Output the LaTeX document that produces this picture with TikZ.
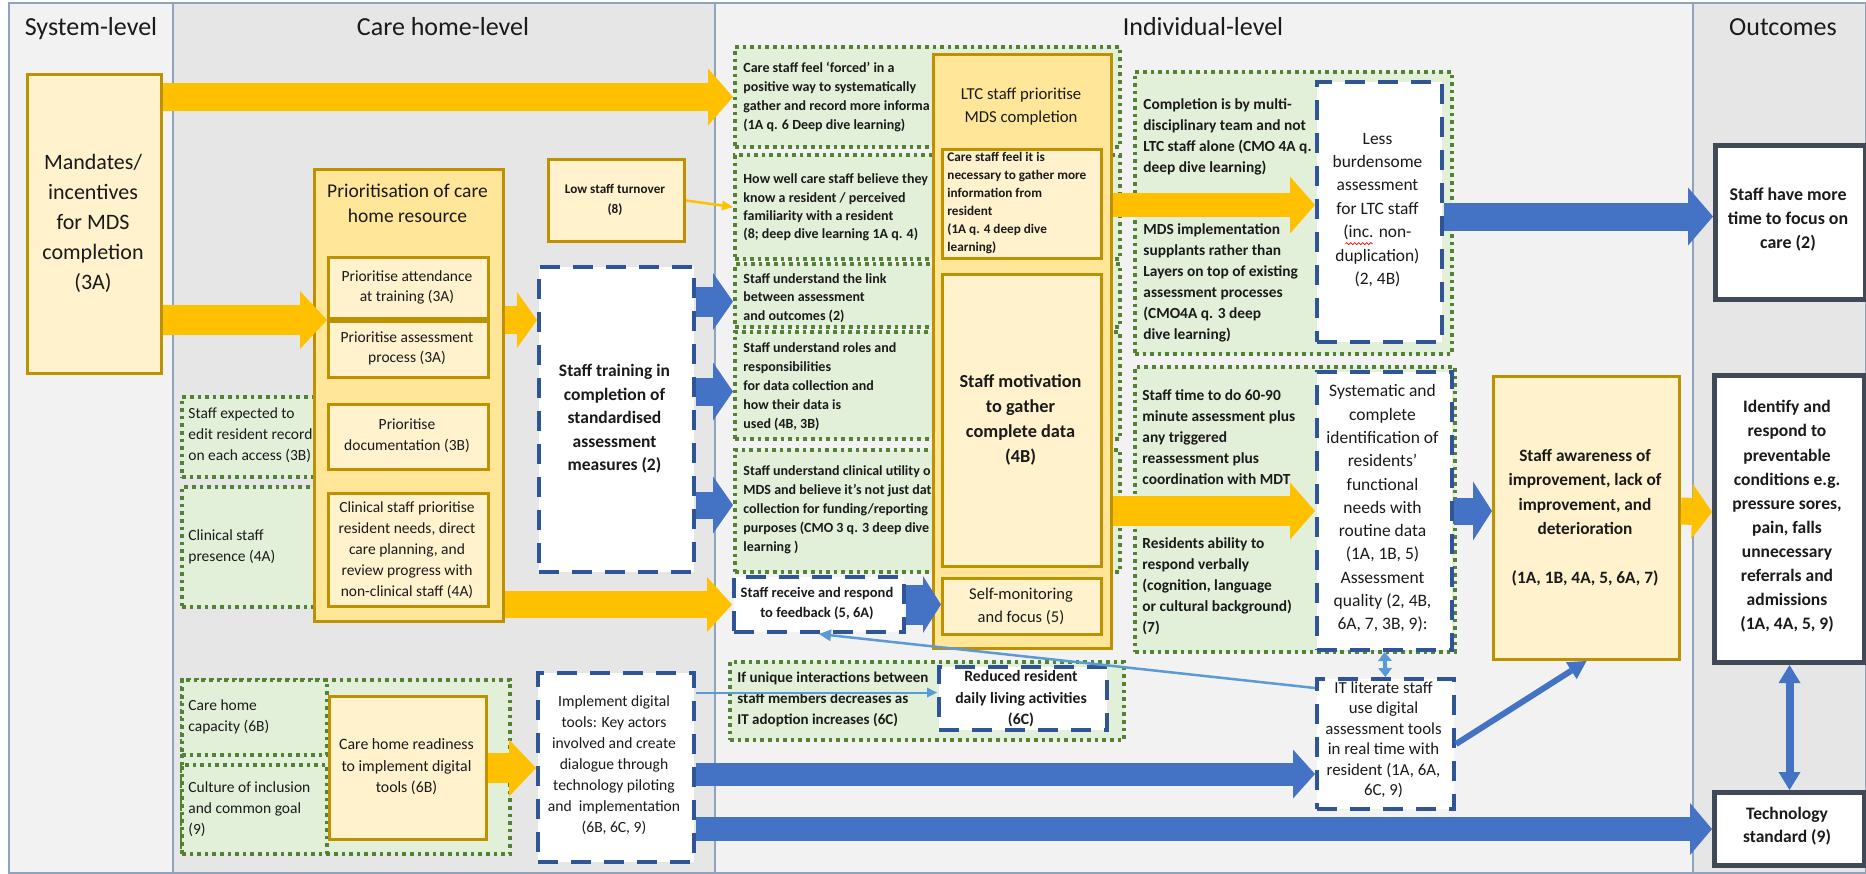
\documentclass[tikz,border=0pt]{standalone}
\usepackage{fontspec}
\setmainfont{Carlito}
\usetikzlibrary{arrows.meta,calc,decorations.pathmorphing}
\definecolor{ylight}{HTML}{FFF2CC}
\definecolor{ydeep}{HTML}{FFE699}
\definecolor{gold}{HTML}{BF9000}
\definecolor{gfill}{HTML}{E2F0D9}
\definecolor{gdot}{HTML}{548235}
\definecolor{bdash}{HTML}{2F5597}
\definecolor{odark}{HTML}{404A56}
\definecolor{orng}{HTML}{FFC000}
\definecolor{blu}{HTML}{4472C4}
\definecolor{lblu}{HTML}{5B9BD5}
\definecolor{pgrey}{HTML}{E7E6E6}
\definecolor{plight}{HTML}{F2F2F2}
\definecolor{pline}{HTML}{8EA3BD}
\definecolor{tcol}{HTML}{1A1A1A}
\newcommand\fs[2]{\fontsize{#1}{#2}\selectfont}
\begin{document}
\begin{tikzpicture}[x=0.5pt,y=-0.5pt,
  box/.style={inner sep=0pt, anchor=north west},
  ybox/.style={box, fill=ylight, draw=gold, line width=1.5pt},
  ydark/.style={box, fill=ydeep, draw=gold, line width=1.5pt},
  gbox/.style={box, fill=gfill, draw=gdot, line width=2pt, dash pattern=on 1.8pt off 2pt},
  bbox/.style={box, fill=white, draw=bdash, line width=2pt, dash pattern=on 10pt off 6.5pt},
  obox/.style={box, fill=white, draw=odark, line width=2.5pt},
  txt/.style={inner sep=0pt, align=center, text=tcol},
  ltxt/.style={inner sep=0pt, align=left, anchor=west, text=tcol},
  ttl/.style={inner sep=0pt, anchor=base, text=tcol, font={\fs{13}{15}}},
  panel/.style={draw=pline, line width=0.8pt},
  fat/.style n args={4}{draw=#1, line width=#2, -{Triangle[width=#3,length=#4,line width=0pt]}},
]
\useasboundingbox (0,0) rectangle (1866,873);
\fill[white] (0,0) rectangle (1866,873);
% panels
\draw[panel, fill=plight] (9,3) rectangle (173,873);
\draw[panel, fill=pgrey] (173,3) rectangle (715,873);
\draw[panel, fill=plight] (715,3) rectangle (1693,873);
\draw[panel, fill=pgrey] (1693,3) rectangle (1866,873);
\node[ttl] (h-sys) at (91,35) {System-level};
\node[ttl] (h-care) at (443,35) {Care home-level};
\node[ttl] (h-ind) at (1203,35) {Individual-level};
\node[ttl] (h-out) at (1783,35) {Outcomes};

% ---------- green context boxes ----------
\node[gbox, minimum width=66.5pt, minimum height=40pt] (gexp) at (180,395) {};
\node[ltxt, font={\fs{7.75}{10.5}}] (gexp-t) at (188,435) {Staff expected to\\edit resident record\\on each access (3B)};
\node[gbox, minimum width=66.5pt, minimum height=60pt] (gcp) at (180,485) {};
\node[ltxt, font={\fs{7.75}{10.5}}] (gcp-t) at (188,547) {Clinical staff\\presence (4A)};
\node[gbox, minimum width=164pt, minimum height=87pt] (gbot) at (180,678) {};
\node[gbox, minimum width=72.5pt, minimum height=37.5pt] (gcap) at (180,678) {};
\node[gbox, minimum width=72.5pt, minimum height=44.5pt] (gcult) at (180,763) {};
\node[ltxt, font={\fs{7.75}{10.5}}] (gcap-t) at (188,717) {Care home\\capacity (6B)};
\node[ltxt, font={\fs{7.75}{10.5}}] (gcult-t) at (188,809) {Culture of inclusion\\and common goal\\(9)};

\node[gbox, minimum width=192.5pt, minimum height=50pt] (forced) at (733,45) {};
\node[gbox, minimum width=192.5pt, minimum height=52pt] (howwell) at (733,153) {};
\node[gbox, minimum width=192.5pt, minimum height=31.5pt] (link) at (733,262) {};
\node[gbox, minimum width=192.5pt, minimum height=53.5pt] (roles) at (733,330) {};
\node[gbox, minimum width=192.5pt, minimum height=61pt] (clin) at (733,448) {};
\node[gbox, minimum width=197pt, minimum height=39pt] (unique) at (728,660) {};
\node[ltxt, font={\fs{7}{9.45}\bfseries}] (forced-t) at (743,97) {Care staff feel ‘forced’ in a\\positive way to systematically\\gather and record more informa\\(1A q. 6 Deep dive learning)};
\node[ltxt, font={\fs{7}{9.2}\bfseries}] (howwell-t) at (743,207.5) {How well care staff believe they\\know a resident / perceived\\familiarity with a resident\\(8; deep dive learning 1A q. 4)};
\node[ltxt, font={\fs{7}{9.3}\bfseries}] (link-t) at (743,298) {Staff understand the link\\between assessment\\and outcomes (2)};
\node[ltxt, font={\fs{7}{9.5}\bfseries}] (roles-t) at (743,387) {Staff understand roles and\\responsibilities\\for data collection and\\how their data is\\used (4B, 3B)};
\node[ltxt, font={\fs{7}{9.5}\bfseries}] (clin-t) at (743,510) {Staff understand clinical utility o\\MDS and believe it’s not just dat\\collection for funding/reporting\\purposes (CMO 3 q. 3 deep dive\\learning )};
\node[ltxt, font={\fs{7.5}{10.5}\bfseries}] (unique-t) at (737,699) {If unique interactions between\\staff members decreases as\\IT adoption increases (6C)};

\node[gbox, minimum width=158.5pt, minimum height=141pt] (compl) at (1133,70) {};
\node[ltxt, font={\fs{7.7}{10.5}\bfseries}] (compl-t) at (1143,136.5) {Completion is by multi-\\disciplinary team and not\\LTC staff alone (CMO 4A q.\\deep dive learning)};
\node[ltxt, font={\fs{7.7}{10.5}\bfseries}] (suppl-t) at (1143,282.5) {MDS implementation\\supplants rather than\\Layers on top of existing\\assessment processes\\(CMO4A q. 3 deep\\dive learning)};
\node[gbox, minimum width=160pt, minimum height=142.5pt] (time) at (1133,365) {};
\node[ltxt, font={\fs{7.7}{10.5}\bfseries}] (time-t) at (1142,437) {Staff time to do 60-90\\minute assessment plus\\any triggered\\reassessment plus\\coordination with MDT};
\node[ltxt, font={\fs{7.7}{10.5}\bfseries}] (verb-t) at (1142,586) {Residents ability to\\respond verbally\\(cognition, language\\or cultural background)\\(7)};

% ---------- yellow boxes ----------
\node[ybox, minimum width=67pt, minimum height=149.5pt] (mand) at (26,73) {};
\node[txt, font={\fs{11}{15}}] (mand-t) at (93,223) {Mandates/\\incentives\\for MDS\\completion\\(3A)};

\node[ydark, minimum width=94.5pt, minimum height=226pt] (prio) at (313,168) {};
\node[txt, font={\fs{9.75}{12.5}}] (prio-t) at (407.5,203) {Prioritisation of care\\home resource};
\node[ybox, minimum width=80pt, minimum height=30.5pt] (p1) at (327,256) {};
\node[txt, font={\fs{7.75}{10}}] (p1-t) at (407,287) {Prioritise attendance\\at training (3A)};
\node[ybox, minimum width=80pt, minimum height=28pt] (p2) at (327,320) {};
\node[txt, font={\fs{7.75}{10}}] (p2-t) at (407,348) {Prioritise assessment\\process (3A)};
\node[ybox, minimum width=80pt, minimum height=32.5pt] (p3) at (327,403) {};
\node[txt, font={\fs{7.75}{10.5}}] (p3-t) at (407,435.5) {Prioritise\\documentation (3B)};
\node[ybox, minimum width=80pt, minimum height=56.5pt] (p4) at (327,492) {};
\node[txt, font={\fs{7.75}{10.5}}] (p4-t) at (407,550) {Clinical staff prioritise\\resident needs, direct\\care planning, and\\review progress with\\non-clinical staff (4A)};

\node[ybox, minimum width=78.5pt, minimum height=71.5pt] (ready) at (328,695) {};
\node[txt, font={\fs{7.9}{10.75}}] (ready-t) at (406.5,767) {Care home readiness\\to implement digital\\tools (6B)};

\node[ybox, minimum width=68pt, minimum height=41pt] (lowstaff) at (547,158) {};
\node[txt, font={\fs{6.6}{10}\bfseries}] (lowstaff-t) at (615,200) {Low staff turnover\\(8)};

\node[ydark, minimum width=89pt, minimum height=297pt] (ltc) at (932,53) {};
\node[txt, font={\fs{8.35}{11.5}}] (ltc-t) at (1021,107) {LTC staff prioritise\\MDS completion};
\node[ybox, minimum width=79.5pt, minimum height=54.5pt] (carenec) at (941,148) {};
\node[ltxt, font={\fs{6.6}{9}\bfseries}] (carenec-t) at (947,202.5) {Care staff feel it is\\necessary to gather more\\information from\\resident\\(1A q. 4 deep dive\\learning)};
\node[ybox, minimum width=79.5pt, minimum height=146pt] (motiv) at (941,273) {};
\node[txt, font={\fs{9.15}{12.5}\bfseries}] (motiv-t) at (1020.5,419.5) {Staff motivation\\to gather\\complete data\\(4B)};
\node[ybox, minimum width=79.5pt, minimum height=28pt] (selfmon) at (941,577) {};
\node[txt, font={\fs{8.25}{11.5}}] (selfmon-t) at (1021,606.5) {Self-monitoring\\and focus (5)};

\node[ybox, minimum width=93pt, minimum height=141.5pt] (aware) at (1492,375) {};
\node[txt, font={\fs{8.65}{12.25}\bfseries}] (aware-t) at (1585,517.5) {Staff awareness of\\improvement, lack of\\improvement, and\\deterioration\\[12.25pt](1A, 1B, 4A, 5, 6A, 7)};

% ---------- blue dashed boxes ----------
\node[bbox, minimum width=77.5pt, minimum height=152.5pt] (training) at (537,265) {};
\node[txt, font={\fs{8.75}{11.75}\bfseries}] (training-t) at (614.5,419) {Staff training in\\completion of\\standardised\\assessment\\measures (2)};
\node[bbox, minimum width=78pt, minimum height=94.5pt] (implement) at (536,671) {};
\node[txt, font={\fs{7.8}{10.5}}] (implement-t) at (614,765) {Implement digital\\tools: Key actors\\involved and create\\dialogue through\\technology piloting\\and\ \ implementation\\(6B, 6C, 9)};
\node[bbox, minimum width=85pt, minimum height=27.5pt] (staffrec) at (732,575) {};
\node[txt, font={\fs{7.25}{10}\bfseries}] (staffrec-t) at (817,603) {Staff receive and respond\\to feedback (5, 6A)};
\node[bbox, minimum width=84pt, minimum height=31.5pt] (reduced) at (937,665) {};
\node[txt, font={\fs{7.85}{10.75}\bfseries}] (reduced-t) at (1021,699) {Reduced resident\\daily living activities\\(6C)};
\node[bbox, minimum width=62.5pt, minimum height=130pt] (less) at (1315,80) {};
\node[txt, font={\fs{8.7}{11.7}}] (less-t) at (1377.5,210) {Less\\burdensome\\assessment\\for LTC staff\\(inc. non-\\duplication)\\(2, 4B)};
\draw[red, line width=0.4pt, decorate, decoration={snake, amplitude=0.5pt, segment length=2pt}] ([xshift=-16pt,yshift=-16.8pt]less-t.center) -- ([xshift=-2.5pt,yshift=-16.8pt]less-t.center);
\node[bbox, minimum width=67.5pt, minimum height=139pt] (syst) at (1315,370) {};
\node[txt, font={\fs{8.75}{11.65}}] (syst-t) at (1382.5,508.5) {Systematic and\\complete\\identification of\\residents’\\functional\\needs with\\routine data\\(1A, 1B, 5)\\Assessment\\quality (2, 4B,\\6A, 7, 3B, 9):};
\node[bbox, minimum width=68.5pt, minimum height=65pt] (itlit) at (1315,677) {};
\node[txt, font={\fs{8.4}{10.25}}] (itlit-t) at (1383.5,740) {IT literate staff\\use digital\\assessment tools\\in real time with\\resident (1A, 6A,\\6C, 9)};

% ---------- outcome boxes ----------
\node[obox, minimum width=75pt, minimum height=77pt] (moretime) at (1713,143) {};
\node[txt, font={\fs{8.95}{12}\bfseries}] (moretime-t) at (1788,220) {Staff have more\\time to focus on\\care (2)};
\node[obox, minimum width=75pt, minimum height=143.5pt] (identify) at (1712,373) {};
\node[txt, font={\fs{8.75}{12.05}\bfseries}] (identify-t) at (1787,516.5) {Identify and\\respond to\\preventable\\conditions e.g.\\pressure sores,\\pain, falls\\unnecessary\\referrals and\\admissions\\(1A, 4A, 5, 9)};
\node[obox, minimum width=75pt, minimum height=36.5pt] (tech) at (1712,790) {};
\node[txt, font={\fs{8.75}{11.5}\bfseries}] (tech-t) at (1787,826.5) {Technology\\standard (9)};

% ---------- connectors ----------
\coordinate (a2t) at ($(p1.south west)!0.5!(p2.north west)$);
\coordinate (b1t) at ([yshift=-3pt]link.west);
\coordinate (b2t) at ([yshift=-3pt]roles.west);
\coordinate (b3t) at ([yshift=3pt]clin.west);
\coordinate (o6t) at ([yshift=3.5pt]less.west);
\coordinate (b5t) at ([yshift=3pt]moretime.west);
\coordinate (b7t) at ([yshift=-15pt]itlit.west);
\coordinate (l1t) at ([yshift=3pt]reduced.west);
\coordinate (l2s) at ([yshift=-5.5pt]itlit.north west);

\draw[fat={orng}{14pt}{28.5pt}{12.5pt}] (mand.east |- forced.west) -- (forced.west);
\draw[fat={orng}{15pt}{29pt}{13.5pt}] (mand.east |- a2t) -- (a2t);
\draw[fat={orng}{14pt}{28pt}{10pt}] (prio.east |- a2t) -- (training.west |- a2t);
\draw[fat={orng}{13.5pt}{27.5pt}{12.5pt}] (prio.east |- staffrec.west) -- (staffrec.west);
\draw[fat={orng}{15pt}{28.5pt}{13.5pt}] (ready.east) -- (implement.west |- ready.east);
\draw[orng, line width=1.25pt, -{Triangle[width=5pt,length=5.5pt,line width=0pt]}] (lowstaff.east) -- (howwell.west);
\draw[fat={orng}{12pt}{28.5pt}{12.5pt}] (ltc.east |- o6t) -- (o6t);
\draw[fat={orng}{15pt}{28.5pt}{12.5pt}] (ltc.east |- syst.west) -- (syst.west);
\draw[fat={orng}{13.5pt}{27.5pt}{10pt}] ([yshift=3.5pt]aware.east) -- ([yshift=3.5pt]identify.west);

\draw[fat={blu}{15pt}{28.5pt}{10pt}] (training.east |- b1t) -- (b1t);
\draw[fat={blu}{14pt}{29pt}{10pt}] (training.east |- b2t) -- (b2t);
\draw[fat={blu}{13.5pt}{28.5pt}{10pt}] (training.east |- b3t) -- (b3t);
\draw[fat={blu}{20pt}{28.5pt}{9pt}] (staffrec.east) -- (selfmon.west |- staffrec.east);
\draw[fat={blu}{14pt}{29pt}{12.5pt}] (less.east |- b5t) -- (b5t);
\draw[fat={blu}{13.5pt}{29.5pt}{9.5pt}] (syst.east) -- (aware.west |- syst.east);
\draw[fat={blu}{11.5pt}{24.5pt}{11pt}] (implement.east |- b7t) -- (b7t);
\draw[fat={blu}{12pt}{26pt}{11pt}] (implement.east |- tech.west) -- (tech.west);
\draw[blu, line width=3pt, -{Triangle[width=10pt,length=9pt,line width=0pt]}] (itlit.east) -- (aware.south);
\draw[blu, line width=4pt, {Triangle[width=11pt,length=9pt,line width=0pt]}-{Triangle[width=11pt,length=9pt,line width=0pt]}] (identify.south) -- (tech.north);

\draw[lblu, line width=1pt, -{Triangle[width=5pt,length=5pt,line width=0pt]}] (implement.east |- l1t) -- (l1t);
\draw[lblu, line width=1.25pt, -{Triangle[width=6pt,length=6pt,line width=0pt]}] (l2s) -- (staffrec.south);
\draw[lblu, line width=2pt, {Triangle[width=7pt,length=4.5pt,line width=0pt]}-{Triangle[width=7pt,length=4.5pt,line width=0pt]}] (syst.south) -- (itlit.north);
\end{tikzpicture}
\end{document}
